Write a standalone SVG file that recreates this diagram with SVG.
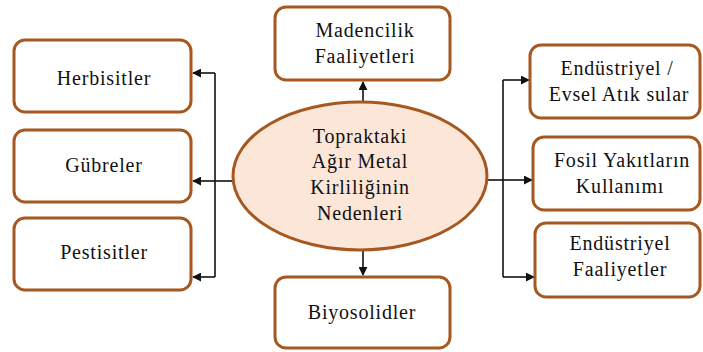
<svg xmlns="http://www.w3.org/2000/svg" width="703" height="352" viewBox="0 0 703 352">
<defs>
<style>
.box{fill:#fff;stroke:#a5581f;stroke-width:3}
.ell{fill:#fce6d8;stroke:#a5581f;stroke-width:3}
.t{font-size:20px;letter-spacing:0.8px;fill:#111;text-anchor:middle}
.c{fill:none;stroke:#111;stroke-width:1.6}
</style>
<marker id="ah" viewBox="0 0 10 10" refX="9" refY="5" markerWidth="9" markerHeight="9" markerUnits="userSpaceOnUse" orient="auto">
<path d="M0,0 L10,5 L0,10 z" fill="#111"/>
</marker>
</defs>
<rect width="703" height="352" fill="#fff"/>
<g id="connectors">
<path class="c" d="M232,181 H215"/>
<path class="c" d="M215,73 V277"/>
<path class="c" d="M215,73 H193" marker-end="url(#ah)"/>
<path class="c" d="M215,181 H193" marker-end="url(#ah)"/>
<path class="c" d="M215,277 H193" marker-end="url(#ah)"/>
<path class="c" d="M488,180 H503"/>
<path class="c" d="M503,80 V277"/>
<path class="c" d="M503,80 H529" marker-end="url(#ah)"/>
<path class="c" d="M503,180 H532" marker-end="url(#ah)"/>
<path class="c" d="M503,277 H534" marker-end="url(#ah)"/>
<path class="c" d="M363,102 V82" marker-end="url(#ah)"/>
<path class="c" d="M363,251 V275" marker-end="url(#ah)"/>
</g>
<g font-family="Liberation Serif, DejaVu Serif, serif">
<g id="center">
<ellipse class="ell" cx="360" cy="176" rx="127" ry="74"/>
<text class="t" x="360" y="143">Topraktaki</text>
<text class="t" x="360" y="168">Ağır Metal</text>
<text class="t" x="360" y="194">Kirliliğinin</text>
<text class="t" x="360" y="220">Nedenleri</text>
</g>
<g id="herbisitler">
<rect class="box" x="14" y="40" width="177" height="72" rx="11"/>
<text class="t" x="104" y="85">Herbisitler</text>
</g>
<g id="gubreler">
<rect class="box" x="14" y="130" width="177" height="72" rx="11"/>
<text class="t" x="104" y="172">Gübreler</text>
</g>
<g id="pestisitler">
<rect class="box" x="14" y="218" width="177" height="72" rx="11"/>
<text class="t" x="104" y="259">Pestisitler</text>
</g>
<g id="madencilik">
<rect class="box" x="275" y="7" width="175" height="73" rx="11"/>
<text class="t" x="365" y="37">Madencilik</text>
<text class="t" x="365" y="63">Faaliyetleri</text>
</g>
<g id="biyosolidler">
<rect class="box" x="275" y="277" width="175" height="71" rx="11"/>
<text class="t" x="362" y="319">Biyosolidler</text>
</g>
<g id="atiksular">
<rect class="box" x="530" y="45" width="170" height="73" rx="11"/>
<text class="t" x="617" y="75">Endüstriyel /</text>
<text class="t" x="619" y="101">Evsel Atık sular</text>
</g>
<g id="fosil">
<rect class="box" x="533" y="137" width="167" height="73" rx="11"/>
<text class="t" x="622" y="167">Fosil Yakıtların</text>
<text class="t" x="620" y="193">Kullanımı</text>
</g>
<g id="endustriyel">
<rect class="box" x="535" y="223" width="165" height="74" rx="11"/>
<text class="t" x="620" y="250">Endüstriyel</text>
<text class="t" x="620" y="276">Faaliyetler</text>
</g>
</g>
</svg>
